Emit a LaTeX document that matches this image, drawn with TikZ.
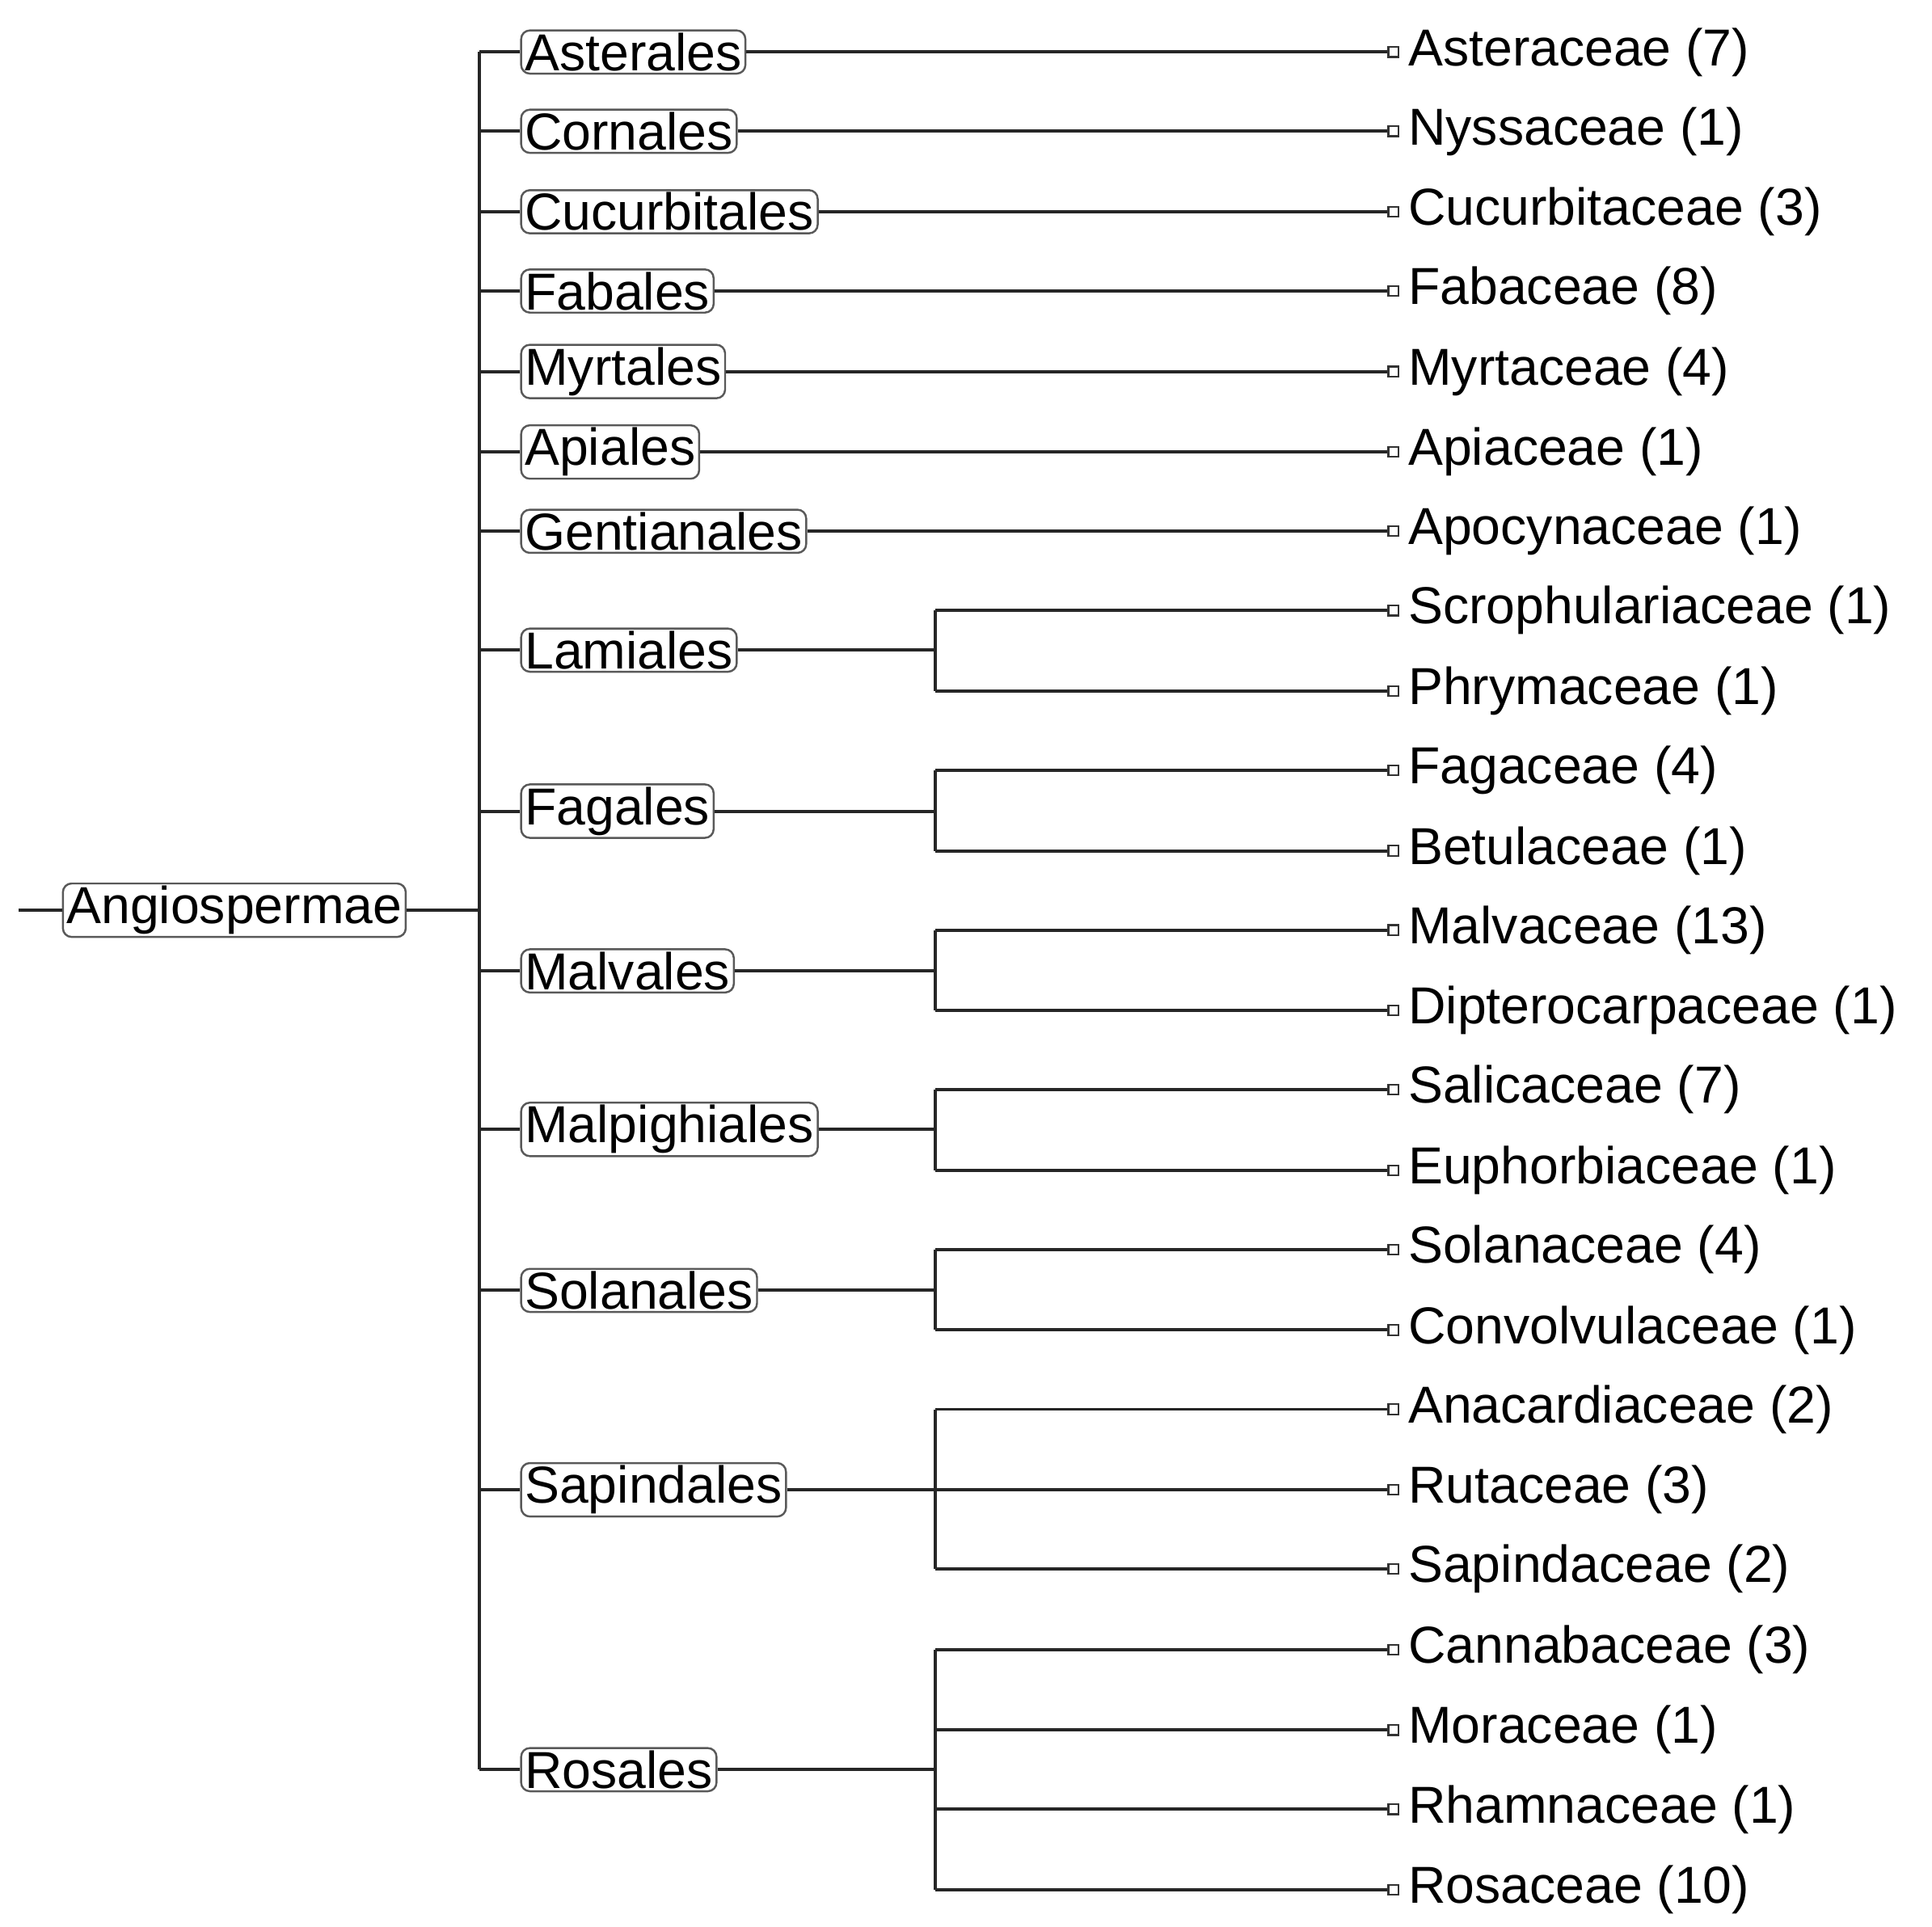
\documentclass[tikz,border=0pt]{standalone}
\usepackage{fontspec}
\setmainfont{Liberation Sans}
\begin{document}
\begin{tikzpicture}[x=1pt,y=-1pt,
  ln/.style={line width=2.6pt,black!85},
  obox/.style={draw=black!65,line width=1.6pt,rounded corners=7pt,inner xsep=3pt,inner ysep=2pt,font=\fontsize{42}{46}\selectfont,anchor=west,fill=white},
  sq/.style={draw=black!80,line width=1.4pt,minimum size=8pt,inner sep=0pt,fill=white},
  fam/.style={font=\fontsize{42}{46}\selectfont,anchor=west,inner sep=0pt}]
\useasboundingbox (0,0) rectangle (1560,1556);
\node[obox] (root) at (50,735) {Angiospermae};
\coordinate (r0) at (15,735);
\coordinate (tt) at (387,42);
\coordinate (tb) at (387,1429);
\draw[ln] (r0) -- (root.west);
\draw[ln] (root.east) -- (root.east -| tt);
\draw[ln] (tt) -- (tb);
\def\fy{{42,106,171,235,300,365,429,493,558,622,687,751,816,880,945,1009,1074,1138,1203,1267,1332,1397,1461,1526}}
\foreach \i/\t in {0/Asteraceae (7),1/Nyssaceae (1),2/Cucurbitaceae (3),3/Fabaceae (8),4/Myrtaceae (4),5/Apiaceae (1),6/Apocynaceae (1),7/Scrophulariaceae (1),8/Phrymaceae (1),9/Fagaceae (4),10/Betulaceae (1),11/Malvaceae (13),12/Dipterocarpaceae (1),13/Salicaceae (7),14/Euphorbiaceae (1),15/Solanaceae (4),16/Convolvulaceae (1),17/Anacardiaceae (2),18/Rutaceae (3),19/Sapindaceae (2),20/Cannabaceae (3),21/Moraceae (1),22/Rhamnaceae (1),23/Rosaceae (10)}{
  \pgfmathsetmacro\yy{\fy[\i]}
  \node[sq] (s\i) at (1125,\yy) {};
  \node[fam] (f\i) at (1137,\yy) {\t};
}
% orders
\foreach \n/\t/\y in {o0/Asterales/42,o1/Cornales/106,o2/Cucurbitales/171,o3/Fabales/235,o4/Myrtales/300,o5/Apiales/365,o6/Gentianales/429,o7/Lamiales/525,o8/Fagales/655,o9/Malvales/784,o10/Malpighiales/912,o11/Solanales/1042,o12/Sapindales/1203,o13/Rosales/1429}{
  \node[obox] (\n) at (420,\y) {\t};
  \draw[ln] (\n.west -| tt) -- (\n.west);
}
\foreach \k in {0,...,6}{ \draw[ln] (o\k.east) -- (s\k.west); }
\foreach \o/\a/\b in {7/7/8,8/9/10,9/11/12,10/13/14,11/15/16,12/17/19,13/20/23}{
  \coordinate (j\o) at (755,0);
  \draw[ln] (o\o.east) -- (o\o.east -| j\o);
  \draw[ln] (s\a.west -| j\o) -- (s\b.west -| j\o);
}
\foreach \o/\s in {7/7,7/8,8/9,8/10,9/11,9/12,10/13,10/14,11/15,11/16,12/17,12/18,12/19,13/20,13/21,13/22,13/23}{
  \draw[ln] (s\s.west -| j\o) -- (s\s.west);
}
\end{tikzpicture}
\end{document}
